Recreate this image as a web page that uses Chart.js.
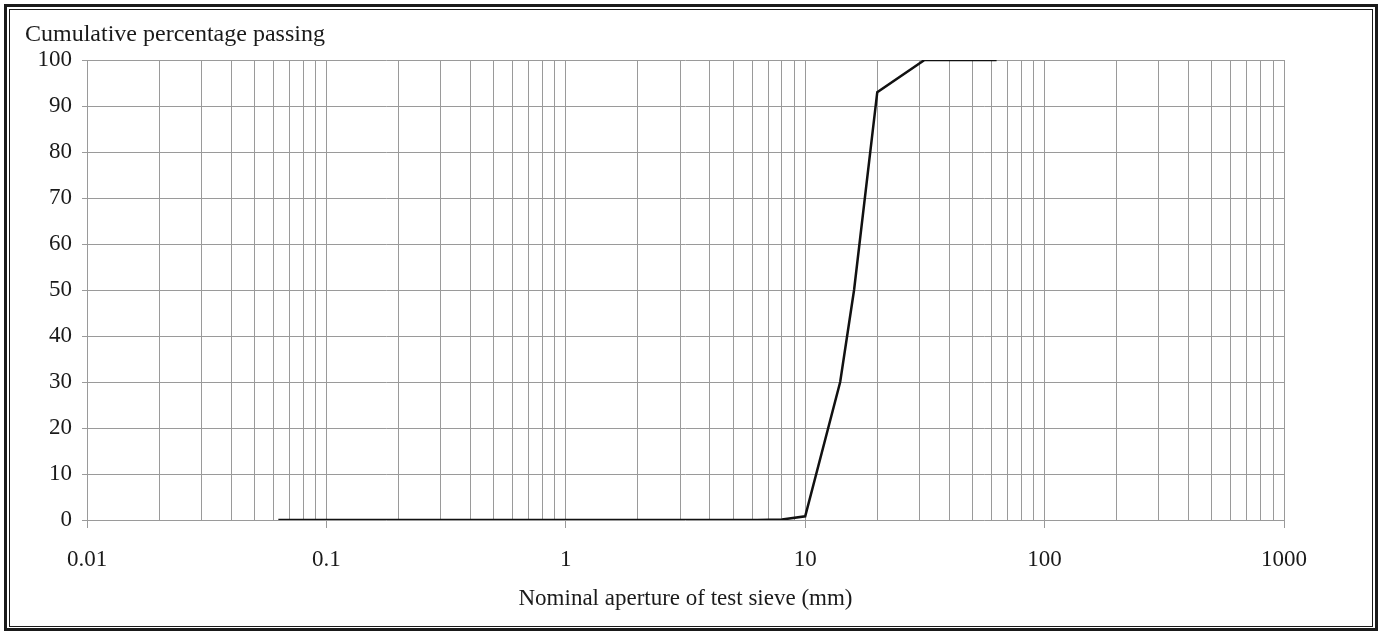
<!DOCTYPE html>
<html>
<head>
<meta charset="utf-8">
<title>Cumulative percentage passing</title>
<script src="https://cdn.jsdelivr.net/npm/chart.js@4.4.1/dist/chart.umd.min.js"></script>
<style>
  html, body { margin: 0; padding: 0; background: #fff; overflow: hidden; }
  #wrap { position: relative; width: 1381px; height: 631px; }
  #chart { position: absolute; left: 0; top: 0; }
  /* double frame round the figure */
  .frame-outer { position: absolute; left: 4px; top: 4px; width: 1374px; height: 627px;
                 box-sizing: border-box; border: 3px solid #1a1a1a; pointer-events: none; }
  .frame-inner { position: absolute; left: 9px; top: 9px; width: 1364px; height: 618px;
                 box-sizing: border-box; border: 1.5px solid #1a1a1a; pointer-events: none; }
</style>
</head>
<body>
<div id="wrap">
  <canvas id="chart" width="1381" height="631"></canvas>
  <div class="frame-outer"></div>
  <div class="frame-inner"></div>
</div>
<script>
// -- data ---------------------------------------------------------------
const sieveSizes = [0.063, 0.125, 0.25, 0.5, 1, 2, 4, 6.3, 8, 10, 14, 16, 20, 31.5, 40, 63];
const percentPassing = [0, 0, 0, 0, 0, 0, 0, 0, 0.1, 0.8, 30, 50, 93, 100, 100, 100];

const decades = [0.01, 0.1, 1, 10, 100, 1000];
const yTicks = [0, 10, 20, 30, 40, 50, 60, 70, 80, 90, 100];

const FONT = "'Liberation Serif', 'Times New Roman', serif";
const GRID = '#9a9a9a';
const INK = '#1a1a1a';

// minor grid at 1..9 x each decade
function gridValues() {
  const out = [];
  decades.forEach(function(d, i) {
    if (i === decades.length - 1) { out.push(d); return; }
    for (let m = 1; m <= 9; m++) out.push(m === 1 ? d : +(d * m).toPrecision(3));
  });
  return out;
}

const topCaption = {
  id: 'topCaption',
  afterDraw(chart, args, opts) {
    const { ctx, chartArea } = chart;
    ctx.save();
    ctx.font = '24px ' + FONT;
    ctx.fillStyle = INK;
    ctx.textAlign = 'left';
    ctx.textBaseline = 'alphabetic';
    ctx.fillText(opts.text, chartArea.left - 62, chartArea.top - 19);
    ctx.restore();
  }
};

new Chart(document.getElementById('chart'), {
  type: 'scatter',
  data: {
    datasets: [{
      data: sieveSizes.map((s, i) => ({ x: s, y: percentPassing[i] })),
      showLine: true,
      borderColor: '#111',
      borderWidth: 2.5,
      pointRadius: 0,
      tension: 0,
    }],
  },
  plugins: [topCaption],
  options: {
    responsive: false,
    animation: false,
    layout: { padding: { top: 60, right: 97, bottom: 0, left: 0 } },
    plugins: {
      legend: { display: false },
      tooltip: { enabled: false },
      topCaption: { text: 'Cumulative percentage passing' },
    },
    scales: {
      x: {
        type: 'logarithmic',
        min: 0.01,
        max: 1000,
        afterBuildTicks: (scale) => {
          scale.ticks = gridValues().map(v => ({ value: v, major: decades.includes(v) }));
        },
        afterFit: (scale) => { scale.height = 111; },
        border: { display: false },
        grid: {
          color: GRID,
          lineWidth: 1,
          tickLength: 8,
          tickColor: (c) => (c.tick && decades.includes(c.tick.value)) ? GRID : 'rgba(0,0,0,0)',
        },
        ticks: {
          autoSkip: false,
          maxRotation: 0,
          padding: 18,
          color: INK,
          font: { family: FONT, size: 23 },
          callback: (v) => decades.includes(v) ? String(v) : '',
        },
        title: {
          display: true,
          text: 'Nominal aperture of test sieve (mm)',
          color: INK,
          font: { family: FONT, size: 23 },
          padding: { top: 0, bottom: 18 },
        },
      },
      y: {
        min: 0,
        max: 100,
        afterBuildTicks: (scale) => {
          scale.ticks = yTicks.map(v => ({ value: v }));
        },
        afterFit: (scale) => { scale.width = 87; },
        border: { display: false },
        grid: { color: GRID, lineWidth: 1, tickLength: 5 },
        ticks: {
          padding: 10,
          color: INK,
          font: { family: FONT, size: 23 },
        },
      },
    },
  },
});
</script>
</body>
</html>
